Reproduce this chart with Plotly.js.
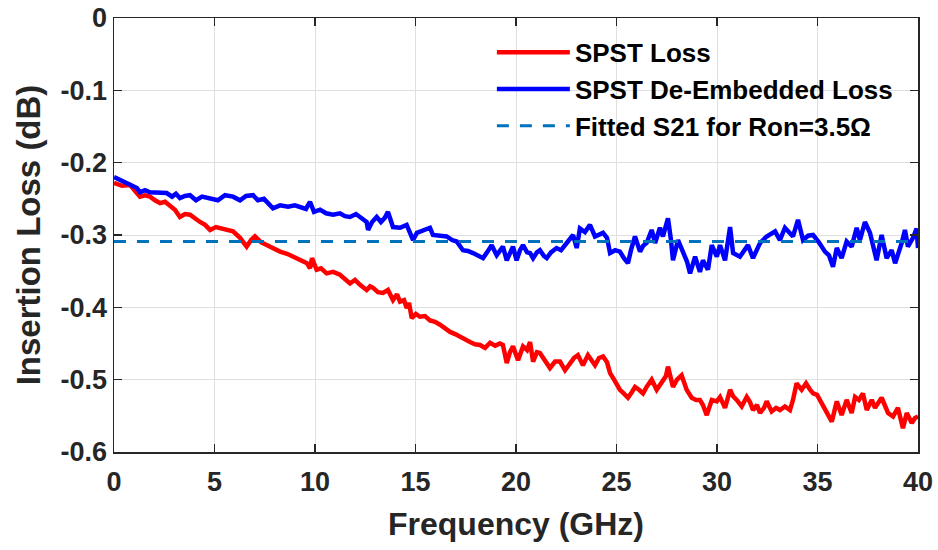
<!DOCTYPE html>
<html>
<head>
<meta charset="utf-8">
<script src="https://cdn.plot.ly/plotly-3.0.1.min.js"></script>
<style>html,body{margin:0;padding:0;background:#fff;}#chart{width:938px;height:550px;}</style>
</head>
<body>
<div id="chart"></div>
<script>
// ---- Data ----
const deembFreq = [0.0,0.4,0.95,1.14,1.29,1.54,1.79,2.19,2.62,2.89,3.08,3.28,3.53,3.78,4.08,4.38,4.78,5.17,5.52,5.92,6.27,6.57,6.92,7.16,7.46,7.66,7.91,8.26,8.66,9.0,9.25,9.55,9.75,9.95,10.25,10.55,10.9,11.24,11.49,11.74,12.04,12.34,12.57,12.64,12.84,13.07,13.28,13.48,13.63,13.88,14.23,14.56,14.73,14.88,15.07,15.22,15.47,15.72,15.87,16.22,16.55,16.82,17.05,17.36,17.61,17.86,18.11,18.36,18.56,18.79,19.04,19.2,19.35,19.54,19.7,19.85,20.03,20.2,20.35,20.55,20.7,20.85,21.04,21.19,21.39,21.53,21.74,22.02,22.24,22.52,22.69,22.84,23.02,23.18,23.43,23.68,23.93,24.13,24.33,24.53,24.68,24.93,25.17,25.37,25.57,25.72,25.92,26.17,26.32,26.5,26.75,26.92,27.16,27.31,27.56,27.71,27.81,28.06,28.31,28.51,28.66,28.91,29.15,29.3,29.55,29.74,29.99,30.15,30.4,30.65,30.8,31.14,31.54,31.79,32.14,32.47,32.89,33.13,33.38,33.78,34.03,34.28,34.53,34.78,35.07,35.37,35.57,35.77,35.96,36.2,36.45,36.7,36.95,37.11,37.36,37.61,37.76,37.94,38.19,38.44,38.69,38.86,39.19,39.35,39.5,39.75,39.93,40.0];
const deembLoss = [-0.220,-0.225,-0.231,-0.235,-0.241,-0.238,-0.241,-0.242,-0.242,-0.247,-0.243,-0.249,-0.246,-0.245,-0.252,-0.247,-0.249,-0.252,-0.245,-0.247,-0.252,-0.246,-0.245,-0.252,-0.250,-0.256,-0.263,-0.259,-0.261,-0.259,-0.261,-0.264,-0.254,-0.268,-0.265,-0.270,-0.272,-0.270,-0.274,-0.275,-0.271,-0.278,-0.282,-0.293,-0.282,-0.275,-0.282,-0.276,-0.268,-0.289,-0.290,-0.286,-0.296,-0.307,-0.297,-0.295,-0.293,-0.290,-0.300,-0.301,-0.302,-0.307,-0.309,-0.321,-0.322,-0.325,-0.328,-0.332,-0.324,-0.314,-0.328,-0.321,-0.316,-0.335,-0.324,-0.316,-0.335,-0.321,-0.314,-0.324,-0.325,-0.332,-0.324,-0.321,-0.329,-0.332,-0.324,-0.318,-0.321,-0.311,-0.307,-0.300,-0.318,-0.291,-0.296,-0.286,-0.302,-0.299,-0.297,-0.304,-0.325,-0.321,-0.323,-0.332,-0.339,-0.321,-0.302,-0.323,-0.315,-0.311,-0.293,-0.311,-0.290,-0.302,-0.277,-0.307,-0.335,-0.307,-0.323,-0.337,-0.353,-0.330,-0.351,-0.335,-0.348,-0.314,-0.330,-0.314,-0.335,-0.289,-0.325,-0.330,-0.314,-0.332,-0.311,-0.302,-0.295,-0.307,-0.290,-0.302,-0.279,-0.307,-0.301,-0.300,-0.310,-0.323,-0.328,-0.344,-0.318,-0.332,-0.309,-0.316,-0.290,-0.307,-0.282,-0.297,-0.314,-0.335,-0.300,-0.332,-0.321,-0.339,-0.311,-0.293,-0.316,-0.304,-0.291,-0.318];

const spstFreq = [0.0,0.4,0.8,1.04,1.29,1.54,1.79,2.04,2.29,2.54,2.79,3.03,3.28,3.53,3.78,4.03,4.28,4.53,4.78,5.07,5.42,5.67,5.92,6.27,6.6,6.82,7.01,7.31,7.6,7.91,8.26,8.61,8.91,9.15,9.4,9.6,9.75,9.85,10.08,10.3,10.58,10.9,11.24,11.49,11.74,11.99,12.24,12.57,12.74,12.89,13.13,13.38,13.63,13.88,14.08,14.23,14.43,14.56,14.68,14.81,15.02,15.22,15.47,15.72,15.97,16.22,16.47,16.72,16.97,17.21,17.46,17.71,17.96,18.21,18.46,18.71,18.96,19.2,19.35,19.54,19.7,19.85,20.1,20.35,20.55,20.7,20.85,21.04,21.19,21.44,21.69,21.94,22.19,22.44,22.69,22.89,23.08,23.33,23.58,23.78,23.93,24.13,24.33,24.53,24.68,24.88,25.01,25.17,25.32,25.57,25.77,25.92,26.12,26.32,26.52,26.75,27.0,27.16,27.31,27.46,27.56,27.66,27.81,28.01,28.24,28.49,28.74,28.96,29.15,29.3,29.49,29.74,29.99,30.15,30.4,30.65,30.8,30.98,31.23,31.48,31.64,31.79,31.99,32.14,32.34,32.47,32.72,32.94,33.13,33.38,33.63,33.78,33.96,34.21,34.43,34.63,34.78,34.98,35.12,35.27,35.46,35.71,35.96,36.2,36.45,36.7,36.87,37.06,37.26,37.45,37.7,37.86,38.19,38.51,38.76,39.0,39.25,39.44,39.69,39.85,40.0];
const spstLoss = [-0.228,-0.232,-0.231,-0.238,-0.247,-0.245,-0.247,-0.252,-0.256,-0.254,-0.259,-0.265,-0.275,-0.271,-0.272,-0.278,-0.282,-0.286,-0.293,-0.289,-0.291,-0.294,-0.295,-0.304,-0.316,-0.307,-0.302,-0.310,-0.314,-0.318,-0.323,-0.326,-0.330,-0.332,-0.335,-0.339,-0.346,-0.332,-0.348,-0.346,-0.353,-0.351,-0.355,-0.362,-0.367,-0.362,-0.369,-0.376,-0.371,-0.373,-0.379,-0.380,-0.376,-0.390,-0.382,-0.392,-0.390,-0.401,-0.394,-0.415,-0.409,-0.413,-0.412,-0.418,-0.420,-0.424,-0.429,-0.434,-0.437,-0.441,-0.445,-0.448,-0.451,-0.452,-0.456,-0.449,-0.453,-0.450,-0.452,-0.477,-0.462,-0.454,-0.473,-0.454,-0.459,-0.448,-0.475,-0.462,-0.463,-0.473,-0.484,-0.475,-0.475,-0.487,-0.477,-0.470,-0.466,-0.480,-0.466,-0.473,-0.480,-0.470,-0.468,-0.476,-0.491,-0.500,-0.507,-0.514,-0.518,-0.525,-0.517,-0.510,-0.514,-0.519,-0.509,-0.500,-0.514,-0.507,-0.503,-0.495,-0.482,-0.494,-0.510,-0.500,-0.494,-0.514,-0.525,-0.528,-0.528,-0.535,-0.549,-0.528,-0.530,-0.524,-0.539,-0.514,-0.523,-0.528,-0.537,-0.524,-0.531,-0.542,-0.535,-0.546,-0.539,-0.530,-0.544,-0.539,-0.542,-0.537,-0.542,-0.528,-0.505,-0.514,-0.505,-0.514,-0.519,-0.521,-0.528,-0.535,-0.546,-0.558,-0.530,-0.549,-0.528,-0.546,-0.524,-0.528,-0.519,-0.542,-0.528,-0.539,-0.525,-0.546,-0.551,-0.539,-0.567,-0.546,-0.560,-0.553,-0.551];

const fitFreq = [0, 40];
const fitLoss = [-0.309, -0.309];

const seriesNames = ['SPST Loss', 'SPST De-Embedded Loss', 'Fitted S21 for Ron=3.5\u03A9'];
const xTickVals = [0,5,10,15,20,25,30,35,40];
const yTickVals = [0,-0.1,-0.2,-0.3,-0.4,-0.5,-0.6];
const yTickText = ['0','-0.1','-0.2','-0.3','-0.4','-0.5','-0.6'];

const FONT = 'Liberation Sans, Arial, Helvetica, sans-serif';

const traces = [
  {x: spstFreq, y: spstLoss, name: seriesNames[0], type: 'scatter', mode: 'lines',
   line: {color: '#ff0000', width: 4.5}},
  {x: deembFreq, y: deembLoss, name: seriesNames[1], type: 'scatter', mode: 'lines',
   line: {color: '#0000ff', width: 4.5}},
  {x: fitFreq, y: fitLoss, name: seriesNames[2], type: 'scatter', mode: 'lines',
   line: {color: '#0072bd', width: 3, dash: '12px,11px'}}
];

const axisCommon = {
  showline: true, linecolor: '#262626', linewidth: 1.5, mirror: 'ticks',
  ticks: 'inside', ticklen: 8, tickwidth: 1.3, tickcolor: '#262626',
  showgrid: true, gridcolor: '#dfdfdf', gridwidth: 1, zeroline: false,
  tickfont: {family: FONT, size: 27, color: '#262626', weight: 'bold'}
};

const layout = {
  width: 938, height: 550,
  margin: {l: 114, r: 20, t: 18, b: 98},
  paper_bgcolor: '#ffffff', plot_bgcolor: '#ffffff',
  showlegend: true,
  legend: {x: 0.47, y: 0.975, xanchor: 'left', yanchor: 'top', bgcolor: 'rgba(0,0,0,0)',
    borderwidth: 0, itemwidth: 73, tracegroupgap: 0,
    font: {family: FONT, size: 26, color: '#000000', weight: 'bold'}},
  xaxis: Object.assign({}, axisCommon, {
    range: [0, 40], tickmode: 'array', tickvals: xTickVals, ticklabelstandoff: 5,
    title: {text: 'Frequency (GHz)', standoff: 16, font: {family: FONT, size: 32, color: '#262626', weight: 'bold'}}
  }),
  yaxis: Object.assign({}, axisCommon, {
    range: [-0.6, 0], tickmode: 'array', tickvals: yTickVals, ticktext: yTickText,
    title: {text: 'Insertion Loss (dB)', standoff: 10, font: {family: FONT, size: 33, color: '#262626', weight: 'bold'}}
  })
};

Plotly.newPlot('chart', traces, layout, {displayModeBar: false, staticPlot: true});
</script>
</body>
</html>
